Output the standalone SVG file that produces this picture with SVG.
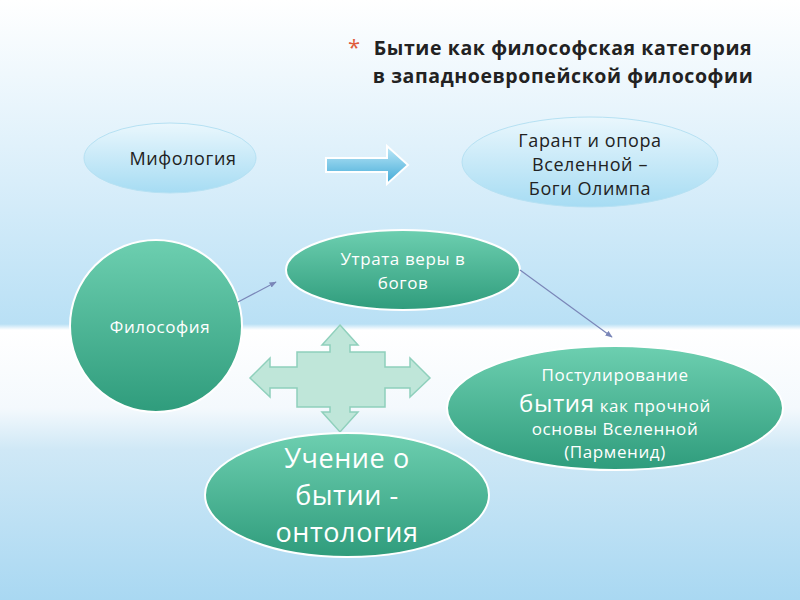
<svg xmlns="http://www.w3.org/2000/svg" width="800" height="600" viewBox="0 0 800 600">
<defs>
<linearGradient id="bg" x1="0" y1="0" x2="0" y2="1">
<stop offset="0" stop-color="#ffffff"/><stop offset="0.3" stop-color="#d9eefa"/><stop offset="0.54" stop-color="#b9e0f5"/><stop offset="0.55" stop-color="#ffffff"/><stop offset="0.68" stop-color="#f4f9fd"/><stop offset="0.75" stop-color="#cfe8f6"/><stop offset="1" stop-color="#a9d8f2"/>
</linearGradient>
<linearGradient id="blue" x1="0" y1="0" x2="0" y2="1"><stop offset="0" stop-color="#eaf7fd"/><stop offset="1" stop-color="#a6dcf3"/></linearGradient>
<linearGradient id="green" x1="0" y1="0" x2="0" y2="1"><stop offset="0" stop-color="#6dcfb0"/><stop offset="1" stop-color="#2f9c7c"/></linearGradient>
<linearGradient id="arr" x1="0" y1="0" x2="0" y2="1"><stop offset="0" stop-color="#bfe9f9"/><stop offset="1" stop-color="#3fa9d6"/></linearGradient>
<marker id="ah" viewBox="0 0 10 10" refX="9" refY="5" markerWidth="6" markerHeight="6" orient="auto"><path d="M0,1 L10,5 L0,9 z" fill="#7a86b8"/></marker>
<style>
text{font-family:"Open Sans","DejaVu Sans",sans-serif;text-anchor:middle;letter-spacing:0.6px}
.w{fill:#ffffff}
.d{fill:#222}
.bo{stroke:#ffffff;stroke-width:2}
</style>
</defs>
<rect width="800" height="600" fill="url(#bg)"/>
<g id="title">
<text x="348" y="55" fill="#e05a3a" font-size="22" style="text-anchor:start">*</text>
<text x="563" y="55" class="d" font-size="19.5" font-weight="bold">Бытие как философская категория</text>
<text x="563" y="83" class="d" font-size="19.5" font-weight="bold">в западноевропейской философии</text>
</g>
<g id="n-myth"><ellipse cx="170" cy="158" rx="86" ry="35" fill="url(#blue)" stroke="#b6e1f3"/>
<text x="183" y="165" class="d" font-size="18">Мифология</text></g>
<g id="n-arrow"><path d="M326,158 H387 V146 L408,165 L387,184 V172 H326 Z" fill="url(#arr)" stroke="#ffffff" stroke-width="2"/></g>
<g id="n-garant"><ellipse cx="590" cy="162" rx="128" ry="45" fill="url(#blue)" stroke="#b6e1f3"/>
<text x="590" y="147" class="d" font-size="18">Гарант  и опора</text>
<text x="590" y="171" class="d" font-size="18">Вселенной –</text>
<text x="590" y="195" class="d" font-size="18">Боги Олимпа</text></g>
<g id="n-phil"><circle cx="156" cy="326" r="86" fill="url(#green)" class="bo"/>
<text x="160" y="333" class="w" font-size="17">Философия</text></g>
<g id="n-loss"><ellipse cx="403" cy="270" rx="117" ry="40" fill="url(#green)" class="bo"/>
<text x="403" y="265" class="w" font-size="17">Утрата веры в</text>
<text x="403" y="289" class="w" font-size="17">богов</text></g>
<g id="n-cross"><path d="M340,325 L358,345 L350,345 L350,352 L385,352 L385,367 L410,367 L410,358 L430,378 L410,397 L410,388 L385,388 L385,407 L350,407 L350,412 L358,412 L340,432 L322,412 L330,412 L330,407 L297,407 L297,388 L270,388 L270,397 L250,378 L270,358 L270,367 L297,367 L297,352 L330,352 L330,345 L322,345 Z" fill="#bfe6d9" stroke="#8fd0bc" stroke-width="1.5"/></g>
<g id="n-post"><ellipse cx="615" cy="408" rx="168" ry="62" fill="url(#green)" class="bo"/>
<text x="615" y="381" class="w" font-size="17">Постулирование</text>
<text x="615" y="412" class="w"><tspan font-size="24">бытия</tspan><tspan font-size="17"> как прочной</tspan></text>
<text x="615" y="435" class="w" font-size="17">основы  Вселенной</text>
<text x="615" y="458" class="w" font-size="17">(Парменид)</text></g>
<g id="n-onto"><ellipse cx="347" cy="495" rx="142" ry="62" fill="url(#green)" class="bo"/>
<text x="347" y="468" class="w" font-size="27">Учение о</text>
<text x="347" y="505" class="w" font-size="27">бытии -</text>
<text x="347" y="542" class="w" font-size="27">онтология</text></g>
<g id="connectors" stroke="#7a86b8" stroke-width="1.2" fill="none">
<line x1="238" y1="302" x2="276" y2="282" marker-end="url(#ah)"/>
<line x1="520" y1="270" x2="612" y2="337" marker-end="url(#ah)"/>
</g>
</svg>
